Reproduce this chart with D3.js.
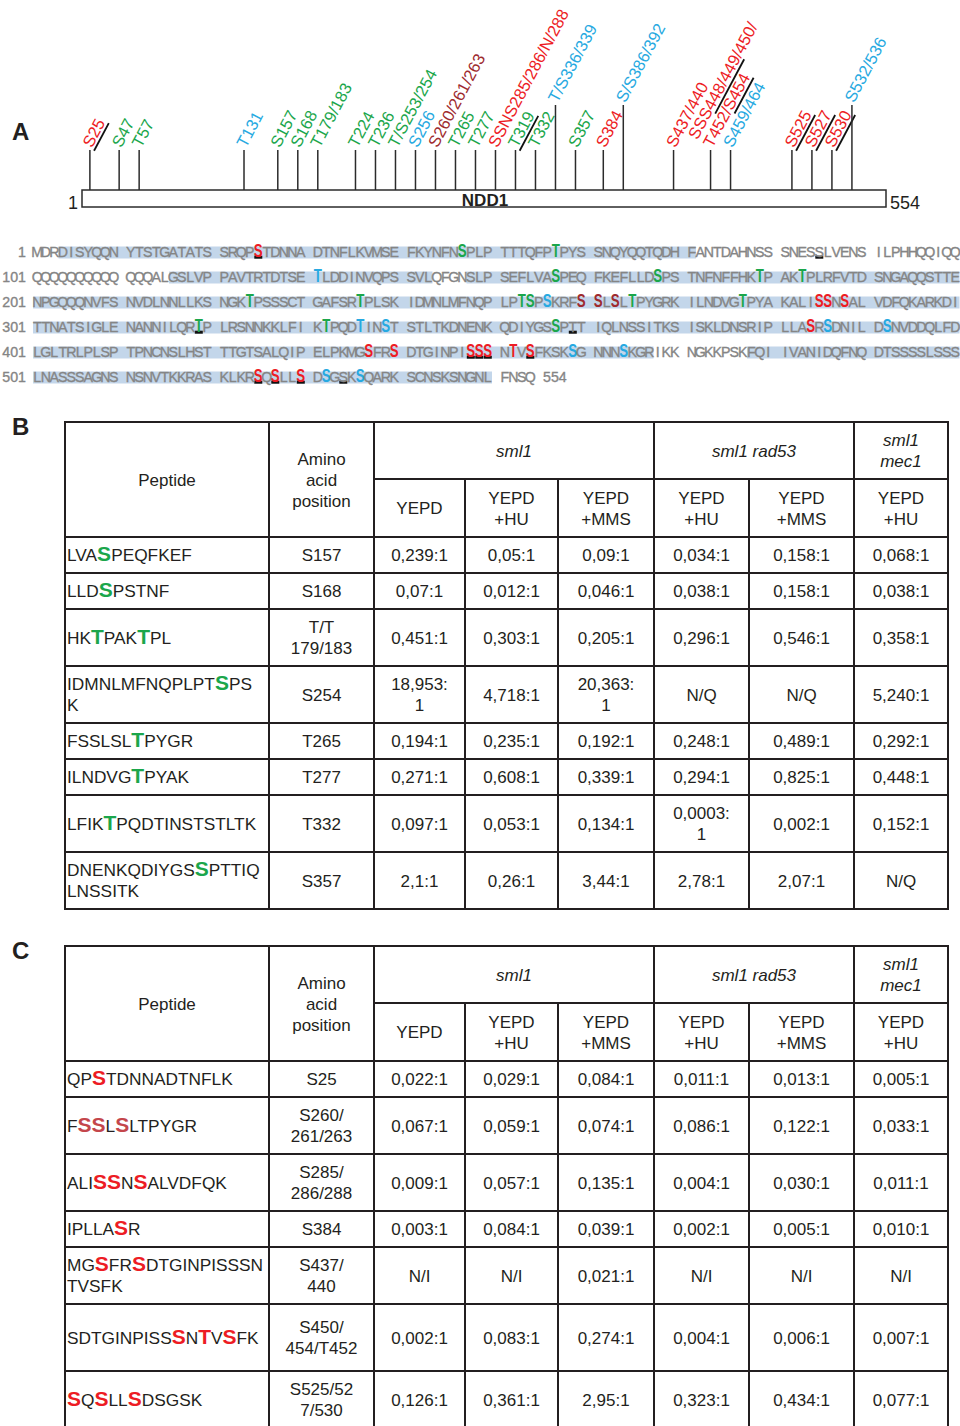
<!DOCTYPE html>
<html>
<head>
<meta charset="utf-8">
<script src="https://cdn.jsdelivr.net/npm/d3@7"></script>
<style>
  body { margin: 0; background: #fff; }
  text { font-family: "Liberation Sans", Arial, sans-serif; }
</style>
</head>
<body>
<svg id="fig"></svg>
<script>
// ---------- data: panel A (sites on the NDD1 schematic)
const proteinLength = 554;
const siteResidues = [25, 47, 57, 131, 157, 168, 179, 224, 236, 253, 256, 260, 265, 277, 285,
  319, 332, 336, 357, 384, 386, 437, 448, 459, 525, 527, 530, 532];
const siteLabels = ["S25", "S47", "T57", "T131", "S157", "S168", "T179/183", "T224", "T236",
  "T/S253/254", "S256", "S260/261/263", "T265", "T277", "SSNS285/286/N/288", "T319", "T332",
  "T/S336/339", "S357", "S384", "S/S386/392", "S437/440", "SSS448/449/450/|T452/S454",
  "S459/464", "S525", "S527", "S530", "S532/536"];
const siteClass = ["rad53", "stable", "stable", "other", "stable", "stable", "stable", "stable",
  "stable", "stable", "other", "partial", "stable", "stable", "rad53", "stable", "stable",
  "other", "stable", "rad53", "other", "rad53", "rad53", "other", "rad53", "rad53", "rad53", "other"];
const siteMarked = ["S25", "", "", "", "", "", "", "", "", "", "", "", "", "", "", "T319", "", "",
  "", "", "", "", "448/449|S454", "", "S525", "S527", "S530", ""];

// ---------- data: sequence
const sequenceLines = [
  "MDRDISYQQN YTSTGATATS SRQPSTDNNA DTNFLKVMSE FKYNFNSPLP TTTQFPTPYS SNQYQQTQDH FANTDAHNSS SNESSLVENS ILPHHQQIQQ",
  "QQQQQQQQQQ QQQALGSLVP PAVTRTDTSE TLDDINVQPS SVLQFGNSLP SEFLVASPEQ FKEFLLDSPS TNFNFFHKTP AKTPLRFVTD SNGAQQSTTE",
  "NPGQQQNVFS NVDLNNLLKS NGKTPSSSCT GAFSRTPLSK IDMNLMFNQP LPTSPSKRFS SLSLTPYGRK ILNDVGTPYA KALISSNSAL VDFQKARKDI",
  "TTNATSIGLE NANNILQRTP LRSNNKKLFI KTPQDTINST STLTKDNENK QDIYGSSPTT IQLNSSITKS ISKLDNSRIP LLASRSDNIL DSNVDDQLFD",
  "LGLTRLPLSP TPNCNSLHST TTGTSALQIP ELPKMGSFRS DTGINPISSS NTVSFKSKSG NNNSKGRIKK NGKKPSKFQI IVANIDQFNQ DTSSSSLSSS",
  "LNASSSAGNS NSNVTKKRAS KLKRSQSLLS DSGSKSQARK SCNSKSNGNL FNSQ"
];
const coveredRanges = [[4, 71], [116, 143], [148, 467], [478, 550]];
const seqStable = [47, 57, 157, 168, 179, 183, 224, 236, 253, 254, 265, 277, 319, 332, 357];
const seqOther = [131, 256, 336, 339, 386, 392, 459, 464, 532, 536];
const seqRad53 = [25, 285, 286, 288, 384, 437, 440, 448, 449, 450, 452, 454, 525, 527, 530];
const seqPartial = [260, 261, 263];
const seqUnderlined = [25, 85, 319, 359, 448, 449, 450, 454, 525, 527, 530, 534];

// ---------- data: tables (lowercase = phosphorylated residue)
const strains = ["sml1", "sml1 rad53", "sml1|mec1"];
const strainSpan = [3, 2, 1];
const media = ["YEPD", "YEPD|+HU", "YEPD|+MMS", "YEPD|+HU", "YEPD|+MMS", "YEPD|+HU"];

const peptidesB = ["LVAsPEQFKEF", "LLDsPSTNF", "HKtPAKtPL", "IDMNLMFNQPLPTsPS|K", "FSSLSLtPYGR",
  "ILNDVGtPYAK", "LFIKtPQDTINSTSTLTK", "DNENKQDIYGSsPTTIQ|LNSSITK"];
const positionsB = ["S157", "S168", "T/T|179/183", "S254", "T265", "T277", "T332", "S357"];
const ratiosB = [
  ["0,239:1", "0,05:1", "0,09:1", "0,034:1", "0,158:1", "0,068:1"],
  ["0,07:1", "0,012:1", "0,046:1", "0,038:1", "0,158:1", "0,038:1"],
  ["0,451:1", "0,303:1", "0,205:1", "0,296:1", "0,546:1", "0,358:1"],
  ["18,953:|1", "4,718:1", "20,363:|1", "N/Q", "N/Q", "5,240:1"],
  ["0,194:1", "0,235:1", "0,192:1", "0,248:1", "0,489:1", "0,292:1"],
  ["0,271:1", "0,608:1", "0,339:1", "0,294:1", "0,825:1", "0,448:1"],
  ["0,097:1", "0,053:1", "0,134:1", "0,0003:|1", "0,002:1", "0,152:1"],
  ["2,1:1", "0,26:1", "3,44:1", "2,78:1", "2,07:1", "N/Q"]
];
const classB = ["stable", "stable", "stable", "stable", "stable", "stable", "stable", "stable"];

const peptidesC = ["QPsTDNNADTNFLK", "FssLsLTPYGR", "ALIssNsALVDFQK", "IPLLAsR",
  "MGsFRsDTGINPISSSN|TVSFK", "SDTGINPISSsNtVsFK", "sQsLLsDSGSK"];
const positionsC = ["S25", "S260/|261/263", "S285/|286/288", "S384", "S437/|440", "S450/|454/T452", "S525/52|7/530"];
const ratiosC = [
  ["0,022:1", "0,029:1", "0,084:1", "0,011:1", "0,013:1", "0,005:1"],
  ["0,067:1", "0,059:1", "0,074:1", "0,086:1", "0,122:1", "0,033:1"],
  ["0,009:1", "0,057:1", "0,135:1", "0,004:1", "0,030:1", "0,011:1"],
  ["0,003:1", "0,084:1", "0,039:1", "0,002:1", "0,005:1", "0,010:1"],
  ["N/I", "N/I", "0,021:1", "N/I", "N/I", "N/I"],
  ["0,002:1", "0,083:1", "0,274:1", "0,004:1", "0,006:1", "0,007:1"],
  ["0,126:1", "0,361:1", "2,95:1", "0,323:1", "0,434:1", "0,077:1"]
];
const classC = ["rad53", "partial", "rad53", "rad53", "rad53", "rad53", "rad53"];

// ---------- setup
const width = 960;
const height = 1426;
const ink = "#231f20";
const seqGray = "#858585";
const svg = d3.select("#fig").attr("width", width).attr("height", height);

const siteColor = d3.scaleOrdinal()
  .domain(["stable", "other", "rad53", "partial"])
  .range(["#1ba64b", "#27a9e1", "#ed1c24", "#9e2b2f"]);
const tableColor = d3.scaleOrdinal()
  .domain(["stable", "rad53", "partial"])
  .range(["#1ba64b", "#ed1c24", "#c4464b"]);

const panelLabel = (txt, x, y) => {
  svg.append("text").attr("x", x).attr("y", y).attr("font-size", 24)
    .attr("font-weight", "bold").attr("fill", ink).text(txt);
};

// ---------- panel A: schematic
const drawSchematic = () => {
  const barTop = 190;
  const barH = 17;
  const barScale = d3.scaleLinear().domain([1, proteinLength]).range([82, 886]);
  const siteScale = d3.scaleLinear().domain([1, proteinLength]).range([55, 859]);
  const raised = new Set([336, 386, 532]);
  const lineStep = 17;

  const sites = siteResidues.map((r, i) => ({
    r: r,
    lines: siteLabels[i].split("|"),
    cls: siteClass[i],
    marks: siteMarked[i] ? siteMarked[i].split("|") : [],
    x: siteScale(r)
  }));

  // spread crowded sites so that labels do not collide
  for (let k = 0; k < 400; k++) {
    for (let i = 0; i < sites.length - 1; i++) {
      const need = 20 + lineStep * (sites[i + 1].lines.length - 1);
      const d = sites[i + 1].x - sites[i].x;
      if (d < need) {
        const s = (need - d) / 2;
        sites[i].x -= s;
        sites[i + 1].x += s;
      }
    }
  }

  const g = svg.append("g");
  sites.forEach((s) => {
    const top = raised.has(s.r) ? 105 : 150;
    g.append("line").attr("x1", s.x).attr("x2", s.x).attr("y1", top).attr("y2", barTop)
      .attr("stroke", "#2b2b2b").attr("stroke-width", 1.5);

    const lg = g.append("g")
      .attr("transform", "translate(" + (s.x + 2) + "," + (top - 1.5) + ") rotate(-62)");
    const n = s.lines.length;
    s.lines.forEach((ln, j) => {
      const ly = -(n - 1 - j) * lineStep;
      const t = lg.append("text").attr("x", 0).attr("y", ly).attr("font-size", 16.5)
        .attr("fill", siteColor(s.cls)).text(ln);
      s.marks.forEach((m) => {
        const at = ln.indexOf(m);
        if (at < 0) return;
        const node = t.node();
        const x0 = at > 0 ? node.getSubStringLength(0, at) : 0;
        const x1 = x0 + node.getSubStringLength(at, m.length);
        lg.append("line").attr("x1", x0 - 1).attr("x2", x1 + 1).attr("y1", ly + 3).attr("y2", ly + 3)
          .attr("stroke", "#111").attr("stroke-width", 1.8);
      });
    });
  });

  g.append("rect").attr("x", barScale(1)).attr("y", barTop)
    .attr("width", barScale(proteinLength) - barScale(1)).attr("height", barH)
    .attr("fill", "#fff").attr("stroke", "#2b2b2b").attr("stroke-width", 1.5);
  g.append("text").attr("x", barScale(1) - 4).attr("y", barTop + 19).attr("text-anchor", "end")
    .attr("font-size", 18).attr("fill", ink).text("1");
  g.append("text").attr("x", barScale(proteinLength) + 4).attr("y", barTop + 19)
    .attr("font-size", 18).attr("fill", ink).text(proteinLength);
  g.append("text").attr("x", (barScale(1) + barScale(proteinLength)) / 2 + 1).attr("y", barTop + 16)
    .attr("text-anchor", "middle").attr("font-size", 17).attr("font-weight", "bold")
    .attr("fill", ink).text("NDD1");
};

// ---------- panel A: sequence
const drawSequence = () => {
  const monoFont = '"Liberation Mono", "DejaVu Sans Mono", monospace';
  const slotX = d3.scaleLinear().domain([0, 1]).range([33, 41.5]);
  const lineY = d3.scaleLinear().domain([0, 1]).range([256.5, 281.5]);
  const residues = sequenceLines.join("").replace(/ /g, "").split("");
  const slotOf = (r) => { const i = (r - 1) % 100; return i + Math.floor(i / 10); };
  const lineOf = (r) => Math.floor((r - 1) / 100);

  const mark = new Map();
  seqStable.forEach((r) => mark.set(r, "stable"));
  seqOther.forEach((r) => mark.set(r, "other"));
  seqRad53.forEach((r) => mark.set(r, "rad53"));
  seqPartial.forEach((r) => mark.set(r, "partial"));

  const g = svg.append("g");
  const grayText = (sel) => sel.attr("font-family", monoFont).attr("font-size", 14.2)
    .attr("fill", seqGray).attr("stroke", seqGray).attr("stroke-width", 0.35);

  // coverage bands
  coveredRanges.forEach(([a, b]) => {
    for (let L = lineOf(a); L <= lineOf(b); L++) {
      const s = Math.max(a, L * 100 + 1);
      const e = Math.min(b, L * 100 + 100);
      g.append("rect").attr("x", slotX(slotOf(s))).attr("y", lineY(L) - 10)
        .attr("width", slotX(slotOf(e) + 1) - slotX(slotOf(s))).attr("height", 12)
        .attr("fill", "#c3d6ea");
    }
  });

  // line numbers
  sequenceLines.forEach((ln, L) => {
    g.append("text").attr("x", 26).attr("y", lineY(L)).attr("text-anchor", "end")
      .call(grayText).text(L * 100 + 1);
  });

  // underlines
  seqUnderlined.forEach((r) => {
    g.append("rect").attr("x", slotX(slotOf(r)) + 0.3).attr("y", lineY(lineOf(r)) - 0.8)
      .attr("width", 8).attr("height", 3).attr("fill", "#111");
  });

  // residues
  residues.forEach((aa, k) => {
    const r = k + 1;
    const cx = slotX(slotOf(r)) + 4.25;
    const y = lineY(lineOf(r));
    if (mark.has(r)) {
      g.append("text").attr("transform", "translate(" + cx + "," + y + ") scale(0.74,1)")
        .attr("text-anchor", "middle").attr("font-size", 18).attr("font-weight", "bold")
        .attr("fill", siteColor(mark.get(r))).text(aa);
    } else {
      g.append("text").attr("x", cx).attr("y", y).attr("text-anchor", "middle")
        .call(grayText).text(aa);
    }
  });

  const last = sequenceLines.length - 1;
  g.append("text").attr("x", slotX(slotOf(proteinLength) + 2)).attr("y", lineY(last))
    .call(grayText).text(proteinLength);
};

// ---------- panels B and C: tables
const colX = [65, 269, 374, 465, 558, 654, 749, 854, 948];
const headSplit = 57;
const headH = 115;
const lineH = 21;
const rowBase = 36;

const multiline = (g, x, cy, str, italic) => {
  const lines = str.split("|");
  const t = g.append("text").attr("text-anchor", "middle").attr("font-size", 17)
    .attr("fill", ink).attr("font-style", italic ? "italic" : "normal");
  lines.forEach((ln, j) => {
    t.append("tspan").attr("x", x)
      .attr("y", cy - (lines.length - 1) * lineH / 2 + 6 + j * lineH).text(ln);
  });
};

const drawTable = (top, peptides, positions, ratios, classes, padRows) => {
  const g = svg.append("g");
  const heights = peptides.map((p, i) => {
    const n = Math.max(p.split("|").length, positions[i].split("|").length,
      ...ratios[i].map((v) => v.split("|").length));
    return rowBase + lineH * (n - 1) + (padRows[i] || 0);
  });
  const rowY = [top + headH];
  heights.forEach((h) => rowY.push(rowY[rowY.length - 1] + h));
  const bottom = rowY[rowY.length - 1];
  const mid = (a, b) => (colX[a] + colX[b]) / 2;

  // header
  multiline(g, mid(0, 1), top + headH / 2, "Peptide");
  multiline(g, mid(1, 2), top + headH / 2, "Amino|acid|position");
  let c = 2;
  strains.forEach((s, i) => {
    multiline(g, mid(c, c + strainSpan[i]), top + headSplit / 2, s, true);
    c += strainSpan[i];
  });
  media.forEach((m, i) => multiline(g, mid(i + 2, i + 3), top + (headSplit + headH) / 2, m));

  // body
  peptides.forEach((p, i) => {
    const cy = (rowY[i] + rowY[i + 1]) / 2;
    const lines = p.split("|");
    lines.forEach((ln, j) => {
      const t = g.append("text").attr("x", colX[0] + 2)
        .attr("y", cy - (lines.length - 1) * lineH / 2 + 6 + j * lineH)
        .attr("font-size", 17.3).attr("fill", ink);
      ln.match(/[A-Z]+|[a-z]/g).forEach((run) => {
        const ts = t.append("tspan").text(run.toUpperCase());
        if (run === run.toLowerCase()) {
          ts.attr("font-weight", "bold").attr("font-size", 21).attr("fill", tableColor(classes[i]));
        }
      });
    });
    multiline(g, mid(1, 2), cy, positions[i]);
    ratios[i].forEach((v, k) => multiline(g, mid(k + 2, k + 3), cy, v));
  });

  // grid
  const rule = (x1, y1, x2, y2) => g.append("line")
    .attr("x1", x1).attr("y1", y1).attr("x2", x2).attr("y2", y2)
    .attr("stroke", ink).attr("stroke-width", 2).attr("stroke-linecap", "square");
  rule(colX[0], top, colX[8], top);
  rule(colX[2], top + headSplit, colX[8], top + headSplit);
  rowY.forEach((y) => rule(colX[0], y, colX[8], y));
  [0, 1, 2, 5, 7, 8].forEach((k) => rule(colX[k], top, colX[k], bottom));
  [3, 4, 6].forEach((k) => rule(colX[k], top + headSplit, colX[k], bottom));
};

panelLabel("A", 12, 140);
drawSchematic();
drawSequence();
panelLabel("B", 12, 435);
drawTable(422, peptidesB, positionsB, ratiosB, classB, {});
panelLabel("C", 12, 959);
drawTable(946, peptidesC, positionsC, ratiosC, classC, { 5: 10 });
</script>
</body>
</html>
